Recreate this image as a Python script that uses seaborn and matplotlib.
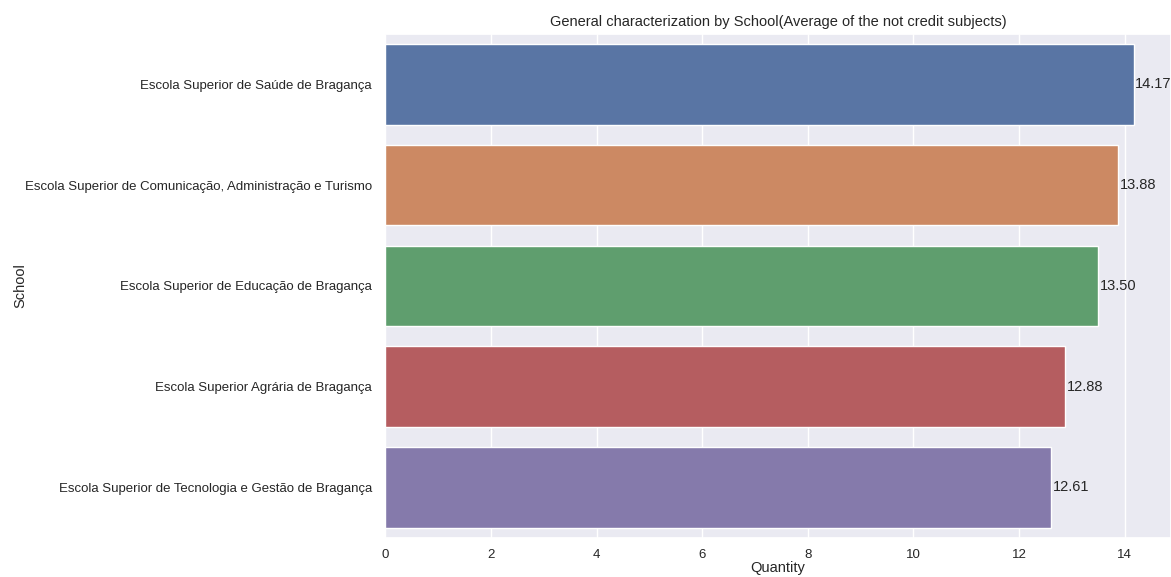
import pandas as pd
import matplotlib.pyplot as plt
import seaborn as sns

schools = [
    "Escola Superior de Saúde de Bragança",
    "Escola Superior de Comunicação, Administração e Turismo",
    "Escola Superior de Educação de Bragança",
    "Escola Superior Agrária de Bragança",
    "Escola Superior de Tecnologia e Gestão de Bragança",
]
averages = [14.17, 13.88, 13.50, 12.88, 12.61]

df = pd.DataFrame({"School": schools, "Quantity": averages})

sns.set_theme(style="darkgrid")
plt.rcParams["font.family"] = ["Liberation Sans", "DejaVu Sans"]

fig = plt.figure(figsize=(11.71, 5.77), dpi=100)
ax = fig.add_axes([0.329, 0.068, 0.671, 0.873])
sns.barplot(data=df, x="Quantity", y="School", hue="School",
            palette="deep", legend=False, ax=ax)

for c in ax.containers:
    ax.bar_label(c, fmt="%.2f", padding=1, fontsize=10.5, color="#262626")

ax.set_title("General characterization by School(Average of the not credit subjects)",
             fontsize=10.5, color="#262626")
ax.set_xlabel("Quantity", fontsize=10.5, labelpad=0)
ax.set_ylabel("School", fontsize=10.5, labelpad=-2)
ax.tick_params(axis="both", labelsize=9.5)
ax.tick_params(axis="x", pad=2)

fig.savefig("out.png", dpi=100, facecolor="white")
